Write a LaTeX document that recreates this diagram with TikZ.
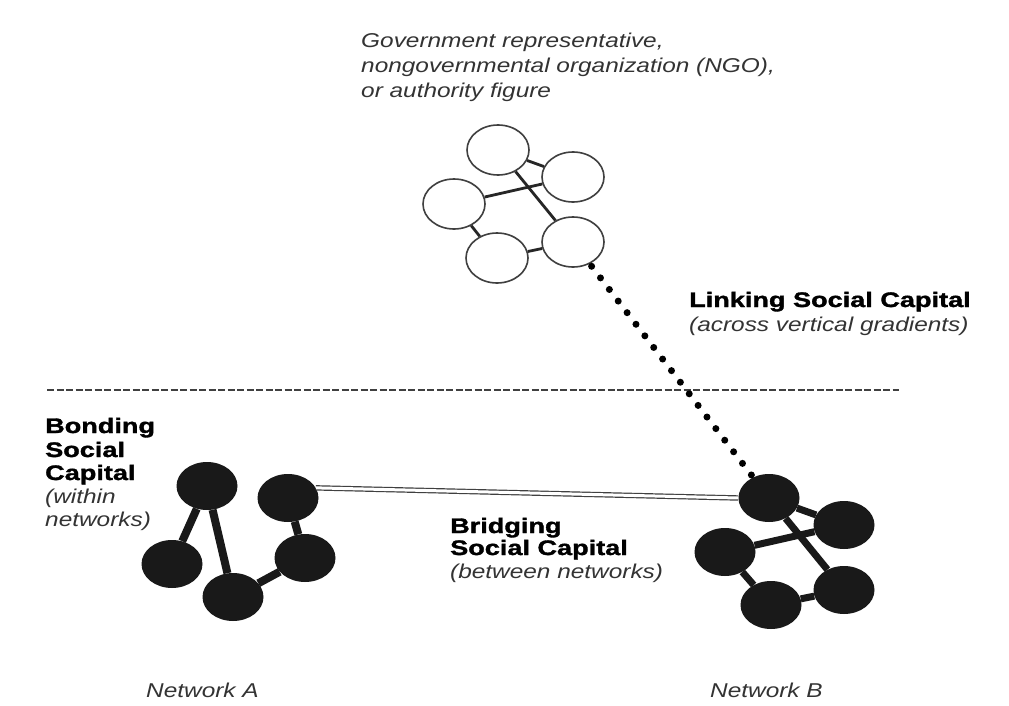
\documentclass[tikz,border=0pt]{standalone}
\usepackage{fontspec}
\setmainfont{Liberation Sans}
\newfontfamily\notefont[FakeStretch=1.22]{Liberation Sans}
\newfontfamily\headfont[FakeStretch=1.29,BoldFeatures={FakeBold=1.6}]{Liberation Sans}
\usetikzlibrary{shapes.geometric}

\tikzset{
  opennode/.style={ellipse, draw=black!75, line width=1.6pt, fill=white,
    minimum width=62pt, minimum height=50pt, inner sep=0pt},
  fullnode/.style={ellipse, fill=black!90, minimum width=61pt,
    minimum height=48pt, inner sep=0pt},
  thinlink/.style={line width=2.8pt, draw=black!85},
  thicklink/.style={line width=8pt, draw=black!90},
  note/.style={anchor=base west, inner sep=0pt, text=black!80,
    font=\notefont\itshape\fontsize{20}{25}\selectfont},
  head/.style={anchor=base west, inner sep=0pt,
    font=\headfont\bfseries\fontsize{21}{25}\selectfont},
}

\begin{document}
\begin{tikzpicture}[x=1pt,y=-1pt]

    \useasboundingbox[fill=white] (0,0) rectangle (1009,706);

    % authority network
    \node[opennode] (t1) at (498,150) {};
    \node[opennode] (t2) at (573,177) {};
    \node[opennode] (t3) at (454,204) {};
    \node[opennode] (t4) at (497,258) {};
    \node[opennode] (t5) at (573,242) {};
    \draw[thinlink] (t1) -- (t2);
    \draw[thinlink] (t3) -- (t2);
    \draw[thinlink] (t1) -- (t5);
    \draw[thinlink] (t3) -- (t4);
    \draw[thinlink] (t4) -- (t5);

    % network A
    \node[fullnode] (a1) at (207,486) {};
    \node[fullnode] (a2) at (288,498) {};
    \node[fullnode] (a3) at (172,564) {};
    \node[fullnode] (a4) at (233,597) {};
    \node[fullnode] (a5) at (305,558) {};
    \draw[thicklink] (a1) -- (a3);
    \draw[thicklink] (a1) -- (a4);
    \draw[thicklink] (a4) -- (a5);
    \draw[thicklink] (a2) -- (a5);

    % network B
    \node[fullnode] (b1) at (769,498) {};
    \node[fullnode] (b2) at (844,525) {};
    \node[fullnode] (b3) at (725,552) {};
    \node[fullnode] (b4) at (771,605) {};
    \node[fullnode] (b5) at (844,590) {};
    \draw[thicklink,line width=7pt] (b1) -- (b2);
    \draw[thicklink,line width=7pt] (b3) -- (b2);
    \draw[thicklink,line width=7pt] (b1) -- (b5);
    \draw[thicklink,line width=7pt] (b3) -- (b4);
    \draw[thicklink,line width=7pt] (b4) -- (b5);

    % divider
    \draw[line width=1.7pt, black!75, dash pattern=on 7pt off 2.5pt] (47,390) -- (899,390);

    % linking and bridging ties
    \draw[line width=7pt, line cap=round, dash pattern=on 0pt off 14.6pt,
      shorten <=3pt] (t5) -- (b1);
    \draw[double, double distance=3pt, line width=1.2pt, draw=black!75] (a2.20) -- (b1.west);

    % labels
    \node[note] (gov1) at (361,48) {Government representative,};
    \node[note] (gov2) at (361,73) {nongovernmental organization (NGO),};
    \node[note] (gov3) at (361,98) {or authority figure};

    \node[head] (link1) at (689,307) {Linking Social Capital};
    \node[note] (link2) at (689,331) {(across vertical gradients)};

    \node[head] (bond1) at (45,433) {Bonding};
    \node[head] (bond2) at (45,457) {Social};
    \node[head] (bond3) at (45,480) {Capital};
    \node[note] (bond4) at (45,503) {(within};
    \node[note] (bond5) at (45,526) {networks)};

    \node[head] (bridge1) at (450,533) {Bridging};
    \node[head] (bridge2) at (450,555) {Social Capital};
    \node[note] (bridge3) at (450,578) {(between networks)};

    \node[note] (netA) at (146,697) {Network A};
    \node[note] (netB) at (710,697) {Network B};

\end{tikzpicture}
\end{document}
